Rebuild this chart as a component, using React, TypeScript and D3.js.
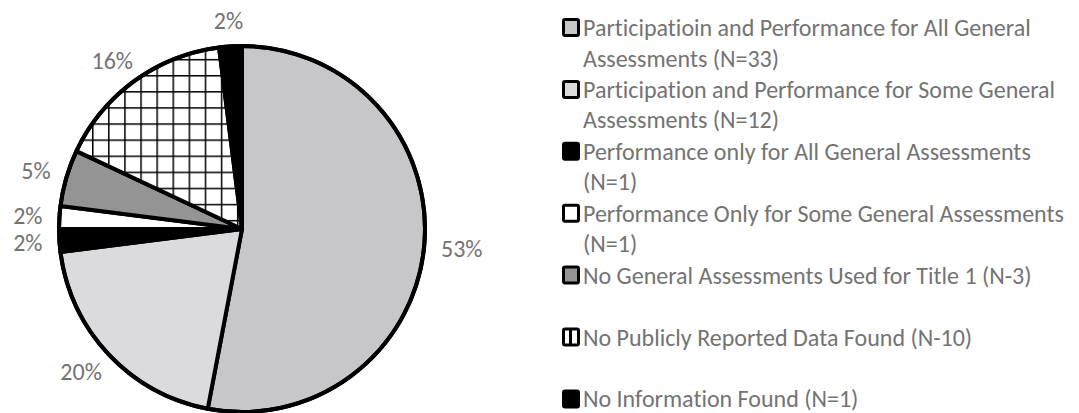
import React from "react";
import * as d3 from "d3";

const categories = [
  "Participatioin and Performance for All General Assessments (N=33)",
  "Participation and Performance for Some General Assessments (N=12)",
  "Performance only for All General Assessments (N=1)",
  "Performance Only for Some General Assessments (N=1)",
  "No General Assessments Used for Title 1 (N-3)",
  "No Publicly Reported Data Found (N-10)",
  "No Information Found (N=1)",
];
const legendLines = [
  ["Participatioin and Performance for All General", "Assessments (N=33)"],
  ["Participation and Performance for Some General", "Assessments (N=12)"],
  ["Performance only for All General Assessments", "(N=1)"],
  ["Performance Only for Some General Assessments", "(N=1)"],
  ["No General Assessments Used for Title 1 (N-3)"],
  ["No Publicly Reported Data Found (N-10)"],
  ["No Information Found (N=1)"],
];
const percentValues = [53, 20, 2, 2, 5, 16, 2];
const fills = ["#c7c7c9", "#dbdbdd", "#000000", "#ffffff", "#949494", "url(#grid)", "#000000"];
const legendFills = ["#c7c7c9", "#dbdbdd", "#000000", "#ffffff", "#949494", "url(#gridLegend)", "#000000"];

const W = 1079;
const H = 413;
const cx = 242;
const cy = 229;
const R = 183;
const FONT = "Calibri, Carlito, 'Liberation Sans Narrow', 'Open Sans', sans-serif";
const TEXT = "#737373";
const FS = 24;

export default function App() {
  const pie = d3.pie<number>().sort(null).value((d) => d).startAngle(0).endAngle(2 * Math.PI);
  const arcs = pie(percentValues);
  const arc = d3.arc<d3.PieArcDatum<number>>().innerRadius(0).outerRadius(R);

  const labelGap = 17;
  const labels = arcs.map((a, i) => {
    const mid = (a.startAngle + a.endAngle) / 2;
    const dx = Math.sin(mid);
    const dy = -Math.cos(mid);
    const text = `${percentValues[i]}%`;
    const w = (text.length - 1) * 12.2 + 17;
    const h = 17;
    const x = cx + dx * (R + labelGap) + (dx * w) / 2;
    const y = cy + dy * (R + labelGap) + (dy * h) / 2;
    return { x, y, text };
  });

  const legendX = 562;
  const legendY0 = 27.5;
  const legendStep = 61.9;
  const lineStep = 30.5;
  const box = 16;
  const textStyle = {
    fontVariantLigatures: "none",
    fontFeatureSettings: "'liga' 0, 'clig' 0, 'calt' 0, 'dlig' 0",
  } as React.CSSProperties;

  return (
    <svg width={W} height={H} style={{ position: "absolute", left: 0, top: 0, background: "#fff", ...textStyle }}>
      <defs>
        <pattern id="grid" patternUnits="userSpaceOnUse" x={11} y={7} width={16.1} height={16.1}>
          <rect width={16.1} height={16.1} fill="#fff" />
          <line x1={0} y1={0} x2={0} y2={16.1} stroke="#000" strokeWidth={3} />
          <line x1={0} y1={0} x2={16.1} y2={0} stroke="#000" strokeWidth={3} />
        </pattern>
        <pattern id="gridLegend" patternUnits="userSpaceOnUse" x={legendX + box / 2 - 1} y={legendY0 + legendStep * 5 - box / 2 - 1} width={16} height={16}>
          <rect width={16} height={16} fill="#fff" />
          <rect x={0} y={0} width={3} height={16} fill="#000" />
          <rect x={0} y={0} width={16} height={2} fill="#000" />
        </pattern>
      </defs>
      <g transform={`translate(${cx},${cy})`}>
        {arcs.map((a, i) => (
          <path key={i} d={arc(a) || ""} fill={fills[i]} stroke="#000" strokeWidth={4} strokeLinejoin="round" />
        ))}
        <circle r={R} fill="none" stroke="#000" strokeWidth={4} />
      </g>
      {labels.map((l, i) => (
        <text key={i} x={l.x} y={l.y} textAnchor="middle" dominantBaseline="central" fontFamily={FONT} fontSize={FS} fill={TEXT} style={textStyle}>
          {l.text}
        </text>
      ))}
      {legendLines.map((lines, i) => {
        const yc = legendY0 + legendStep * i;
        return (
          <g key={i}>
            <rect x={legendX + 1.5} y={yc - box / 2} width={box - 1} height={box} rx={1.5} fill={legendFills[i]} stroke="#000" strokeWidth={3} />
            {lines.map((t, j) => (
              <text key={j} x={legendX + 21} y={yc + j * lineStep} dominantBaseline="central" fontFamily={FONT} fontSize={FS} fill={TEXT} style={textStyle}>
                {t}
              </text>
            ))}
          </g>
        );
      })}
      <title>{categories.join("; ")}</title>
    </svg>
  );
}
